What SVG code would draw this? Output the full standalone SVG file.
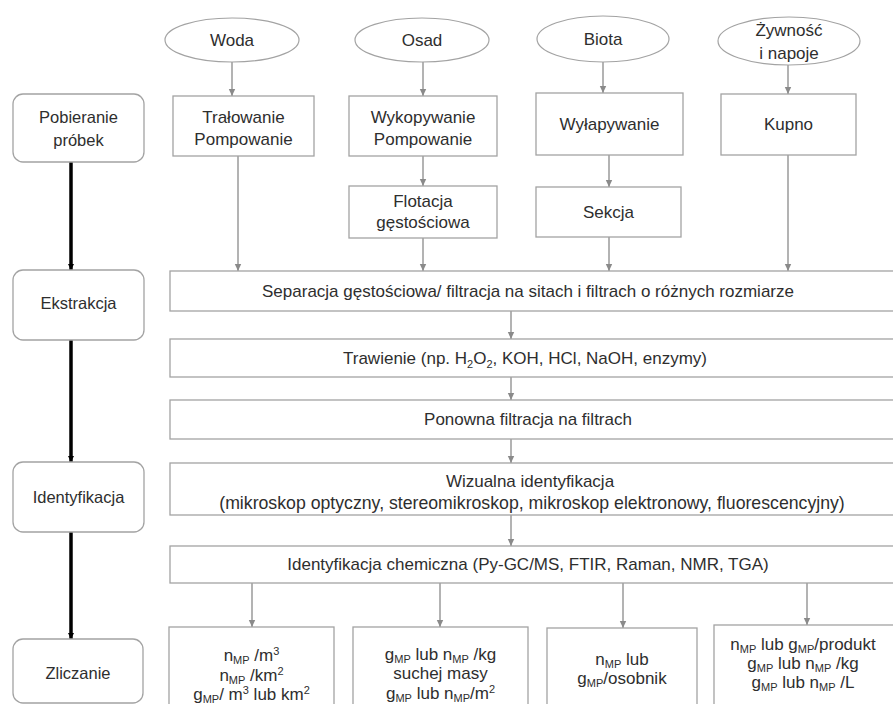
<svg xmlns="http://www.w3.org/2000/svg" width="893" height="704" viewBox="0 0 893 704">
<defs>
<marker id="ag" markerUnits="userSpaceOnUse" markerWidth="8" markerHeight="8" refX="7" refY="4" orient="auto">
<path d="M0,0.8 L7,4 L0,7.2 z" fill="#8a8a8a"/>
</marker>
<marker id="ab" markerUnits="userSpaceOnUse" markerWidth="8" markerHeight="8" refX="6" refY="4" orient="auto">
<path d="M0,1 L6,4 L0,7 z" fill="#000"/>
</marker>
</defs>
<style>
text{font-family:"Liberation Sans",Arial,sans-serif;font-size:17px;fill:#2e2e2e;text-anchor:middle}
.box{fill:#fff;stroke:#a3a3a3;stroke-width:1.3}
.ell{fill:#fff;stroke:#a3a3a3;stroke-width:1.2}
.stage{fill:#fff;stroke:#a3a3a3;stroke-width:1.3}
.stage-t{font-size:16.5px}
.c{stroke:#8a8a8a;stroke-width:1.3;fill:none;marker-end:url(#ag)}
.t{stroke:#000;stroke-width:3.5;fill:none;marker-end:url(#ab)}
.s{font-size:11px}
</style>
<rect width="893" height="704" fill="#fff"/>

<g id="connectors">
<line class="t" x1="71" y1="162" x2="71" y2="270"/>
<line class="t" x1="71" y1="340" x2="71" y2="462"/>
<line class="t" x1="71" y1="532" x2="71" y2="639"/>
<line class="c" x1="232" y1="62" x2="232" y2="96"/>
<line class="c" x1="423" y1="62" x2="423" y2="96"/>
<line class="c" x1="603" y1="62" x2="603" y2="93"/>
<line class="c" x1="788" y1="65" x2="788" y2="94"/>
<line class="c" x1="423" y1="156" x2="423" y2="186"/>
<line class="c" x1="609" y1="155" x2="609" y2="187"/>
<line class="c" x1="238" y1="156" x2="238" y2="271"/>
<line class="c" x1="423" y1="238" x2="423" y2="271"/>
<line class="c" x1="609" y1="237" x2="609" y2="271"/>
<line class="c" x1="788" y1="155" x2="788" y2="271"/>
<line class="c" x1="511" y1="311" x2="511" y2="339"/>
<line class="c" x1="511" y1="377" x2="511" y2="400"/>
<line class="c" x1="511" y1="439" x2="511" y2="463"/>
<line class="c" x1="511" y1="515" x2="511" y2="546"/>
<line class="c" x1="252" y1="583" x2="252" y2="627"/>
<line class="c" x1="440" y1="583" x2="440" y2="627"/>
<line class="c" x1="623" y1="583" x2="623" y2="628"/>
<line class="c" x1="807" y1="583" x2="807" y2="625"/>
</g>

<g id="stage-pobieranie">
<rect class="stage" x="13" y="94" width="131" height="68" rx="10"/>
<text class="stage-t" x="78.5" y="123">Pobieranie</text>
<text class="stage-t" x="78.5" y="146">próbek</text>
</g>
<g id="stage-ekstrakcja">
<rect class="stage" x="13" y="270" width="131" height="70" rx="10"/>
<text class="stage-t" x="78.5" y="309">Ekstrakcja</text>
</g>
<g id="stage-identyfikacja">
<rect class="stage" x="13" y="462" width="131" height="70" rx="10"/>
<text class="stage-t" x="78.5" y="503">Identyfikacja</text>
</g>
<g id="stage-zliczanie">
<rect class="stage" x="13" y="639" width="130" height="64" rx="10"/>
<text class="stage-t" x="78" y="679">Zliczanie</text>
</g>

<g id="src-woda">
<ellipse class="ell" cx="232" cy="40" rx="67" ry="22"/>
<text x="232" y="46">Woda</text>
</g>
<g id="src-osad">
<ellipse class="ell" cx="422" cy="40" rx="67" ry="22"/>
<text x="422" y="46">Osad</text>
</g>
<g id="src-biota">
<ellipse class="ell" cx="603" cy="39" rx="66" ry="23"/>
<text x="603" y="45">Biota</text>
</g>
<g id="src-zywnosc">
<ellipse class="ell" cx="789" cy="41" rx="71" ry="24"/>
<text x="789" y="36">Żywność</text>
<text x="789" y="59">i napoje</text>
</g>

<g id="tralowanie">
<rect class="box" x="173" y="96" width="141" height="60"/>
<text x="243.5" y="123">Trałowanie</text>
<text x="243.5" y="145">Pompowanie</text>
</g>
<g id="wykopywanie">
<rect class="box" x="349" y="96" width="148" height="60"/>
<text x="423" y="123">Wykopywanie</text>
<text x="423" y="145">Pompowanie</text>
</g>
<g id="wylapywanie">
<rect class="box" x="536" y="93" width="147" height="62"/>
<text x="609.5" y="130">Wyłapywanie</text>
</g>
<g id="kupno">
<rect class="box" x="721" y="94" width="135" height="61"/>
<text x="788.5" y="130">Kupno</text>
</g>
<g id="flotacja">
<rect class="box" x="349" y="186" width="148" height="52"/>
<text x="423" y="207">Flotacja</text>
<text x="423" y="228">gęstościowa</text>
</g>
<g id="sekcja">
<rect class="box" x="536" y="187" width="145" height="50"/>
<text x="608.5" y="218">Sekcja</text>
</g>

<g id="separacja">
<rect class="box" x="170" y="271" width="730" height="40"/>
<text x="528" y="297">Separacja gęstościowa/ filtracja na sitach i filtrach o różnych rozmiarze</text>
</g>
<g id="trawienie">
<rect class="box" x="170" y="339" width="730" height="38"/>
<text x="525" y="364">Trawienie (np. H<tspan class="s" dy="4">2</tspan><tspan dy="-4">O</tspan><tspan class="s" dy="4">2</tspan><tspan dy="-4">, KOH, HCl, NaOH, enzymy)</tspan></text>
</g>
<g id="ponowna">
<rect class="box" x="170" y="400" width="730" height="39"/>
<text x="528" y="425">Ponowna filtracja na filtrach</text>
</g>
<g id="wizualna">
<rect class="box" x="170" y="463" width="730" height="52"/>
<text x="530" y="487">Wizualna identyfikacja</text>
<text x="532" y="509" style="font-size:17.7px">(mikroskop optyczny, stereomikroskop, mikroskop elektronowy, fluorescencyjny)</text>
</g>
<g id="chemiczna">
<rect class="box" x="170" y="546" width="730" height="37"/>
<text x="528" y="570">Identyfikacja chemiczna (Py-GC/MS, FTIR, Raman, NMR, TGA)</text>
</g>

<g id="wynik-woda">
<rect class="box" x="169" y="627" width="165" height="82"/>
<text x="251.5" y="661">n<tspan class="s" dy="3">MP</tspan><tspan dy="-3"> /m</tspan><tspan class="s" dy="-6">3</tspan></text>
<text x="251.5" y="681">n<tspan class="s" dy="3">MP</tspan><tspan dy="-3"> /km</tspan><tspan class="s" dy="-6">2</tspan></text>
<text x="251.5" y="700">g<tspan class="s" dy="3">MP</tspan><tspan dy="-3">/ m</tspan><tspan class="s" dy="-6">3</tspan><tspan dy="6"> lub km</tspan><tspan class="s" dy="-6">2</tspan></text>
</g>
<g id="wynik-osad">
<rect class="box" x="353" y="627" width="175" height="82"/>
<text x="440.5" y="660">g<tspan class="s" dy="3">MP</tspan><tspan dy="-3"> lub n</tspan><tspan class="s" dy="3">MP</tspan><tspan dy="-3"> /kg</tspan></text>
<text x="440.5" y="679">suchej masy</text>
<text x="440.5" y="699">g<tspan class="s" dy="3">MP</tspan><tspan dy="-3"> lub n</tspan><tspan class="s" dy="3">MP</tspan><tspan dy="-3">/m</tspan><tspan class="s" dy="-6">2</tspan></text>
</g>
<g id="wynik-biota">
<rect class="box" x="547" y="628" width="150" height="81"/>
<text x="622" y="665">n<tspan class="s" dy="3">MP</tspan><tspan dy="-3"> lub</tspan></text>
<text x="622" y="684">g<tspan class="s" dy="3">MP</tspan><tspan dy="-3">/osobnik</tspan></text>
</g>
<g id="wynik-zywnosc">
<rect class="box" x="714" y="625" width="190" height="84"/>
<text x="803" y="650">n<tspan class="s" dy="3">MP</tspan><tspan dy="-3"> lub g</tspan><tspan class="s" dy="3">MP</tspan><tspan dy="-3">/produkt</tspan></text>
<text x="803" y="669">g<tspan class="s" dy="3">MP</tspan><tspan dy="-3"> lub n</tspan><tspan class="s" dy="3">MP</tspan><tspan dy="-3"> /kg</tspan></text>
<text x="803" y="688">g<tspan class="s" dy="3">MP</tspan><tspan dy="-3"> lub n</tspan><tspan class="s" dy="3">MP</tspan><tspan dy="-3"> /L</tspan></text>
</g>
</svg>
